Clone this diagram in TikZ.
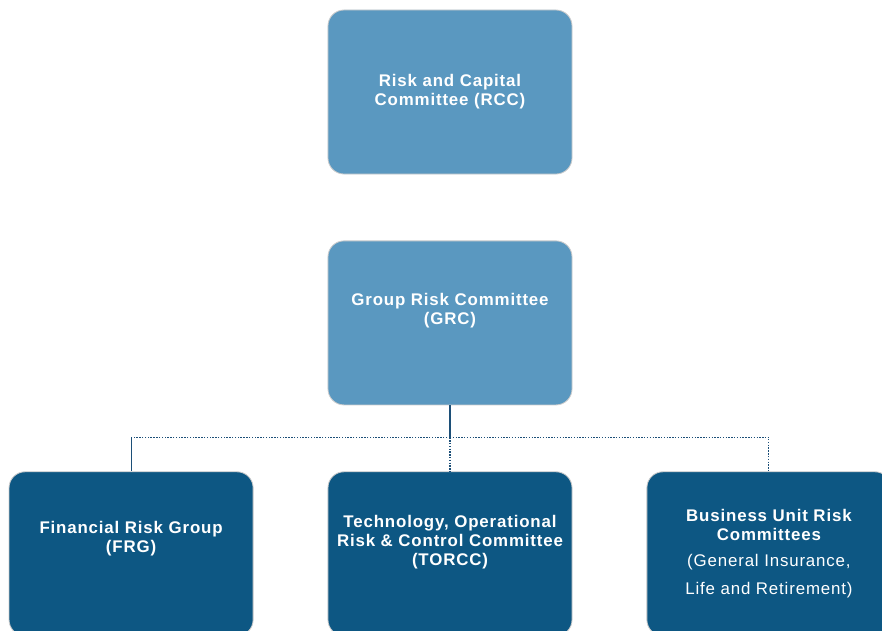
\documentclass[tikz,border=0pt]{standalone}
\usepackage{fontspec}
\setmainfont{Liberation Sans}
\usepackage{xcolor}
\usetikzlibrary{positioning}

\definecolor{upperblue}{HTML}{5A98C0}
\definecolor{lowerblue}{HTML}{0D5783}
\definecolor{linkblue}{HTML}{1C4F78}

\begin{document}
\begin{tikzpicture}[
                x=0.025cm, y=-0.025cm,
                node distance=1.65cm and 1.85cm,
                box/.style={draw=black!20, line width=0.6pt, rounded corners=0.4cm, align=center,
                    minimum width=6.1cm, minimum height=4.1cm, text=white,
                    font=\bfseries\fontsize{12}{13.5}\selectfont\addfontfeatures{LetterSpace=5}},
                upper/.style={box, fill=upperblue},
                lower/.style={box, fill=lowerblue},
                link/.style={draw=linkblue, line width=0.8pt},
                dotlink/.style={link, dash pattern=on 1pt off 1pt}
            ]
                \useasboundingbox (0,0) rectangle (882,631);
                \clip (0,0) rectangle (882,631);

                \node[upper] (rcc) at (450,92) {Risk and Capital\\Committee (RCC)};
                \node[upper, below=of rcc] (grc) {Group Risk Committee\\(GRC)\\[0.25cm]};
                \node[lower, below=of grc] (torcc) {Technology, Operational\\Risk \& Control Committee\\(TORCC)\\[0.2cm]};
                \node[lower, left=of torcc] (frg) {Financial Risk Group\\(FRG)\\[0.35cm]};
                \node[lower, right=of torcc] (bu) {Business Unit Risk\\Committees\\[5pt]
                    {\mdseries (General Insurance,}\\[6pt] {\mdseries Life and Retirement)}};

                \coordinate[below=0.8cm of grc] (bus);
                \coordinate (lcorner) at (frg.north |- bus);

                \draw[link] (grc) -- (bus);
                \draw[dotlink] (bus) -- (lcorner);
                \draw[link] (lcorner) -- (frg);
                \draw[dotlink] (bus) -- (torcc);
                \draw[dotlink] (bus) -| (bu);
            \end{tikzpicture}
\end{document}
